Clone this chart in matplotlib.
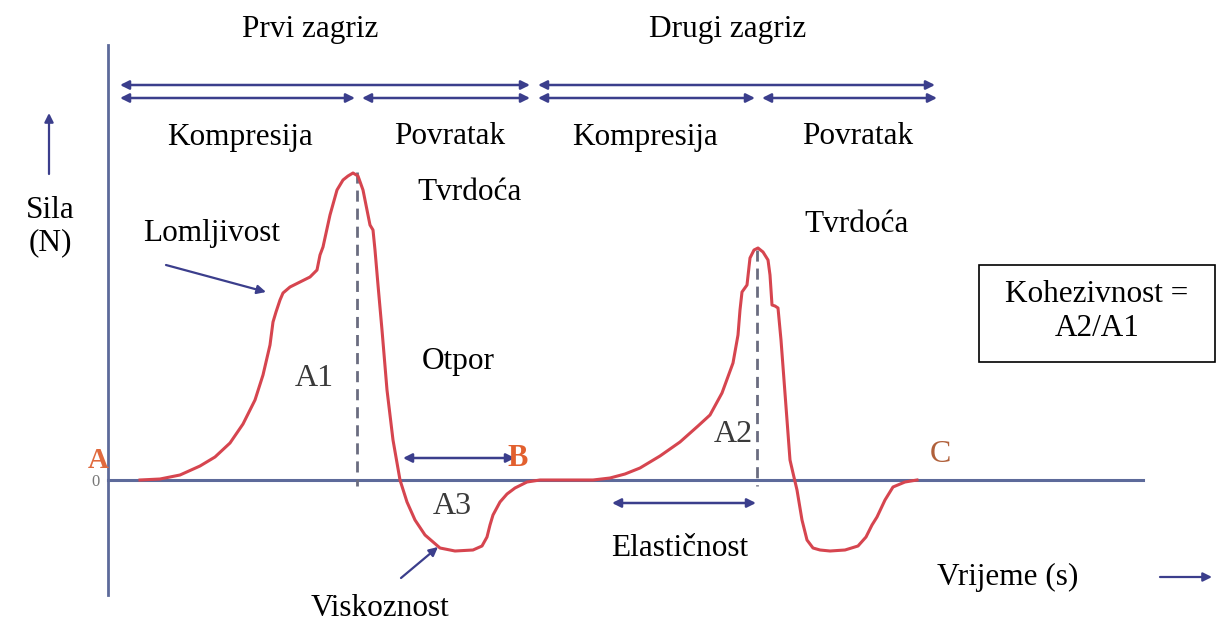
import matplotlib
matplotlib.use("Agg")
import matplotlib.pyplot as plt
from matplotlib.patches import Rectangle

# force curve: time (px units), force (px above baseline)
t_curve = [140, 160, 180, 200, 215, 230, 243, 255, 263, 270, 273, 276, 280, 283, 290, 300,
           310, 317, 320, 323, 330, 337, 343, 348, 353, 358, 363, 367, 370, 373, 375, 378,
           382, 387, 393, 400, 407, 415, 425, 440, 455, 473, 482, 487, 490, 493, 500, 507,
           515, 527, 540, 560, 575, 593, 610, 625, 640, 660, 680, 698, 710, 722, 733, 738,
           740, 742, 747, 750, 754, 758, 763, 768, 770, 772, 775, 778, 781, 784, 787, 790,
           793, 797, 802, 807, 813, 820, 830, 845, 858, 866, 872, 877, 885, 893, 905, 917]
f_curve = [0, 1, 5, 14, 23, 37, 56, 80, 105, 135, 158, 168, 180, 187, 193, 198,
           203, 210, 225, 233, 265, 290, 300, 304, 307, 304, 290, 270, 255, 250, 230, 195,
           150, 90, 40, 0, -22, -40, -55, -68, -71, -70, -66, -57, -45, -35, -22, -14,
           -8, -2, 0, 0, 0, 0, 2, 6, 12, 24, 38, 54, 65, 87, 117, 145,
           170, 188, 195, 222, 230, 232, 228, 220, 205, 175, 174, 172, 140, 100, 60, 20,
           7, -10, -40, -60, -68, -70, -71, -70, -66, -57, -45, -37, -20, -7, -2, 0]

# double-headed arrows: (t_start, t_end, force)
phase_arrows = [(120, 530, 395), (538, 935, 395),
                (120, 355, 382), (362, 530, 382), (538, 755, 382), (762, 937, 382)]
span_arrows = [(403, 515, 22), (612, 756, -23)]

# peaks (dashed markers)
peak_t = [357, 757]
peak_f = [308, 230]

labels_top = ["Prvi zagriz", "Drugi zagriz"]
labels_top_t = [310, 728]
labels_phase = ["Kompresija", "Povratak", "Kompresija", "Povratak"]
labels_phase_t = [240, 450, 645, 858]

RED = "#d6454f"
BLUE = "#3b3e8c"
AXIS = "#5d6a9a"
SERIF = ["Liberation Serif", "DejaVu Serif"]
FS = 22.5

fig = plt.figure(figsize=(12.16, 6.24), dpi=100)
ax = fig.add_axes([0, 0, 1, 1])
ax.set_xlim(0, 1216)
ax.set_ylim(-144, 480)
ax.axis("off")

# axes of the diagram
ax.plot([108, 108], [435, -115], color=AXIS, lw=2)
ax.plot([108, 1143], [0, 0], color=AXIS, lw=2.2)

# dashed lines under peaks
for t, f in zip(peak_t, peak_f):
    ax.plot([t, t], [f, -6], color="#6a6c80", lw=2, ls=(0, (4, 2.5)))

ax.plot(t_curve, f_curve, color=RED, lw=2.2, solid_joinstyle="round")

arrow_kw = dict(arrowstyle="<|-|>", color=BLUE, lw=1.8, mutation_scale=13,
                shrinkA=0, shrinkB=0)
for a, b, f in phase_arrows + span_arrows:
    ax.annotate("", xy=(b, f), xytext=(a, f), arrowprops=arrow_kw)

single_kw = dict(arrowstyle="-|>", color=BLUE, lw=1.6, mutation_scale=13,
                 shrinkA=0, shrinkB=0)
ax.annotate("", xy=(49, 367), xytext=(49, 306), arrowprops=single_kw)
ax.annotate("", xy=(1212, -97), xytext=(1160, -97), arrowprops=single_kw)
ax.annotate("", xy=(266, 188), xytext=(166, 215), arrowprops=single_kw)
ax.annotate("", xy=(438, -67), xytext=(401, -98), arrowprops=single_kw)

txt = dict(family=SERIF, fontsize=FS, color="black", ha="center", va="center")
for s, t in zip(labels_top, labels_top_t):
    ax.text(t, 451, s, **txt)
for s, t in zip(labels_phase, labels_phase_t):
    ax.text(t, 343, s, **txt)

ax.text(50, 270, "Sila", **txt)
ax.text(50, 237, "(N)", **txt)
ax.text(212, 247, "Lomljivost", **txt)
ax.text(470, 288, "Tvrdoća", **txt)
ax.text(857, 256, "Tvrdoća", **txt)
ax.text(458, 118, "Otpor", **txt)
ax.text(680, -68, "Elastičnost", **txt)
ax.text(380, -129, "Viskoznost", **txt)
ax.text(1008, -97, "Vrijeme (s)", **txt)

gray = dict(family=SERIF, fontsize=23, color="#3a3a3a", ha="center", va="center")
ax.text(314, 102, "A1", **gray)
ax.text(452, -26, "A3", **gray)
ax.text(733, 45, "A2", **gray)

ax.text(98, 20, "A", family=SERIF, fontsize=21, color="#e06a3e", weight="bold",
        ha="center", va="center")
ax.text(96, -2, "0", family=SERIF, fontsize=12, color="#777777", ha="center", va="center")
ax.text(518, 22, "B", family=SERIF, fontsize=22, color="#e2602e", weight="bold",
        ha="center", va="center")
ax.text(940, 26, "C", family=SERIF, fontsize=23, color="#b0603a", ha="center", va="center")

ax.add_patch(Rectangle((979, 118), 236, 97, fill=False, ec="black", lw=1.2))
ax.text(1097, 186, "Kohezivnost =", **txt)
ax.text(1097, 152, "A2/A1", **txt)

fig.savefig("out.png", dpi=100)
